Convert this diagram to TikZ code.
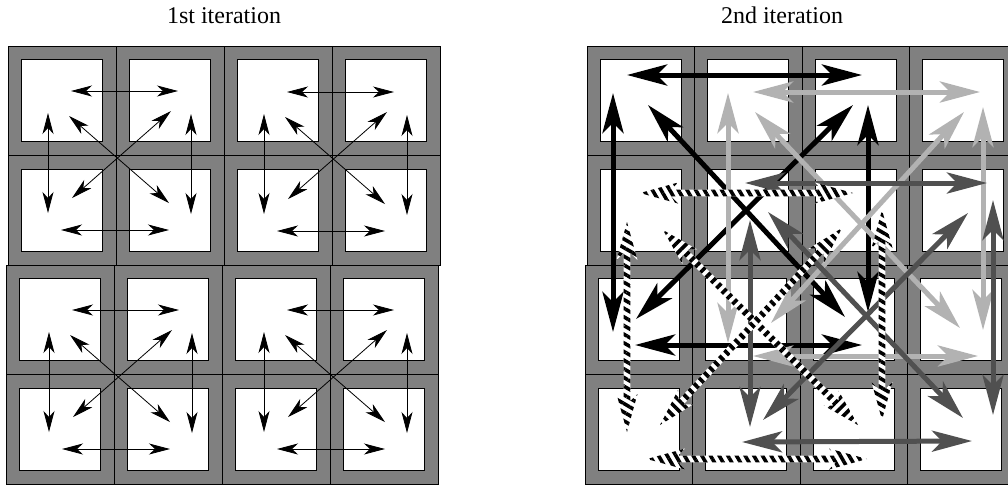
\documentclass[tikz,border=0pt]{standalone}
\usepackage{fontspec}
\setmainfont{Liberation Serif}
\usetikzlibrary{arrows.meta,calc,patterns.meta}

\definecolor{cellgray}{RGB}{128,128,128}
\definecolor{lightarrow}{RGB}{178,178,178}
\definecolor{darkarrow}{RGB}{80,80,80}

\tikzset{
  cell/.style={draw, fill=cellgray, line width=0.8pt, inner sep=0pt,
    minimum width=108pt, minimum height=109.5pt},
  pane/.style={draw, fill=white, line width=0.7pt, inner sep=0pt,
    minimum width=81pt, minimum height=82pt},
  thinarrow/.style={line width=0.8pt,
    {Stealth[length=21pt,width=11pt,inset=6pt]}-{Stealth[length=21pt,width=11pt,inset=6pt]}},
  bigarrow/.style={line width=5pt,
    {Stealth[length=40pt,width=21pt,inset=10pt]}-{Stealth[length=40pt,width=21pt,inset=10pt]}},
  hatched/.style={preaction={fill=white},
    pattern={Lines[angle=#1, distance=7.5pt, line width=3.6pt]}},
  title/.style={font=\fontsize{24}{28}\selectfont, anchor=base}
}

% double headed striped arrow between two named points, #3 = stripe angle
\newcommand\hatcharrow[3]{%
  \path[hatched=#3] (#1)
    -- ($(#1)!38pt!(#2)!10.5pt!90:(#2)$)
    -- ($(#1)!31pt!(#2)!3.4pt!90:(#2)$)
    -- ($(#2)!31pt!(#1)!3.4pt!-90:(#1)$)
    -- ($(#2)!38pt!(#1)!10.5pt!-90:(#1)$)
    -- (#2)
    -- ($(#2)!38pt!(#1)!10.5pt!90:(#1)$)
    -- ($(#2)!31pt!(#1)!3.4pt!90:(#1)$)
    -- ($(#1)!31pt!(#2)!3.4pt!-90:(#2)$)
    -- ($(#1)!38pt!(#2)!10.5pt!-90:(#2)$)
    -- cycle;}

\begin{document}
\begin{tikzpicture}[x=1pt,y=1pt,yscale=-1]
\clip (0,0) rectangle (1008,485);

% Titles
\node[title] (first) at (224,23) {1st iteration};
\node[title] (second) at (782,23) {2nd iteration};

% left grid
\foreach \r/\y/\dx in {1/100.75/0, 2/210.25/0, 3/319.75/-2, 4/429.25/-2}
  \foreach \c/\x in {1/62, 2/170, 3/278, 4/386} {
    \node[cell] (L\r\c) at (\x+\dx,\y) {};
    \node[pane] (L\r\c-in) at (L\r\c) {};
  }

% right grid
\foreach \r/\y/\dx in {1/100.75/0, 2/210.25/0, 3/319.75/-2, 4/429.25/-2}
  \foreach \c/\x in {1/640.75, 2/748.25, 3/855.75, 4/963.25} {
    \node[cell, minimum width=107.5pt] (R\r\c) at (\x+\dx,\y) {};
    \node[pane] (R\r\c-in) at (R\r\c) {};
  }

% 1st iteration: same star in every 2x2 block
\foreach \b/\cx/\cy in {a/117/157, b/333/158, c/118/376, d/333/376} {
  \begin{scope}[shift={(\cx,\cy)}]
    \coordinate (\b-ht-a) at (-46,-66);  \coordinate (\b-ht-b) at (61,-66);
    \coordinate (\b-hb-a) at (-56,73);   \coordinate (\b-hb-b) at (52,73);
    \coordinate (\b-vl-a) at (-69,-44);  \coordinate (\b-vl-b) at (-69,56);
    \coordinate (\b-vr-a) at (74,-43);   \coordinate (\b-vr-b) at (74,57);
    \coordinate (\b-dd-a) at (-48,-41);  \coordinate (\b-dd-b) at (52,46);
    \coordinate (\b-du-a) at (-45,41);   \coordinate (\b-du-b) at (54,-46);
  \end{scope}
  \foreach \n in {ht,hb,vl,vr,dd,du}
    \draw[thinarrow] (\b-\n-a) -- (\b-\n-b);
}

% 2nd iteration: end points of the four groups
\foreach \n/\ax/\ay/\bx/\by in {
    k-ht/627/75/862/75, k-hb/635/345/862/345, k-vl/613/93/613/332,
    k-vr/868/105/868/312, k-dd/648/105/845/317, k-du/636/319/853/105,
    l-ht/753/92/980/92, l-hb/753/356/978/356, l-vl/728/93/728/343,
    l-vr/983/107/983/330, l-dd/755/112/960/328, l-du/771/323/964/112,
    d-ht/745/183/987/183, d-hb/742/442/972/441, d-vl/750/220/750/427,
    d-vr/993/200/993/415, d-dd/768/212/963/418, d-du/763/420/968/213,
    s-ht/640/193/853/193, s-hb/647/459/867/459, s-vl/627/222/627/432,
    s-vr/882/210/882/420, s-dd/663/230/858/425, s-du/660/425/842/228} {
  \coordinate (\n-a) at (\ax,\ay);
  \coordinate (\n-b) at (\bx,\by);
}

\foreach \n in {ht,hb,vl,vr,dd,du}
  \draw[bigarrow, black] (k-\n-a) -- (k-\n-b);
\foreach \n in {ht,hb,vl,vr,dd,du}
  \draw[bigarrow, lightarrow] (l-\n-a) -- (l-\n-b);
\foreach \n in {ht,hb,vl,vr,dd,du}
  \draw[bigarrow, darkarrow] (d-\n-a) -- (d-\n-b);
\foreach \n/\ang in {ht/120, hb/120, vl/150, vr/150, dd/45, du/135}
  \hatcharrow{s-\n-a}{s-\n-b}{\ang};

\end{tikzpicture}
\end{document}
